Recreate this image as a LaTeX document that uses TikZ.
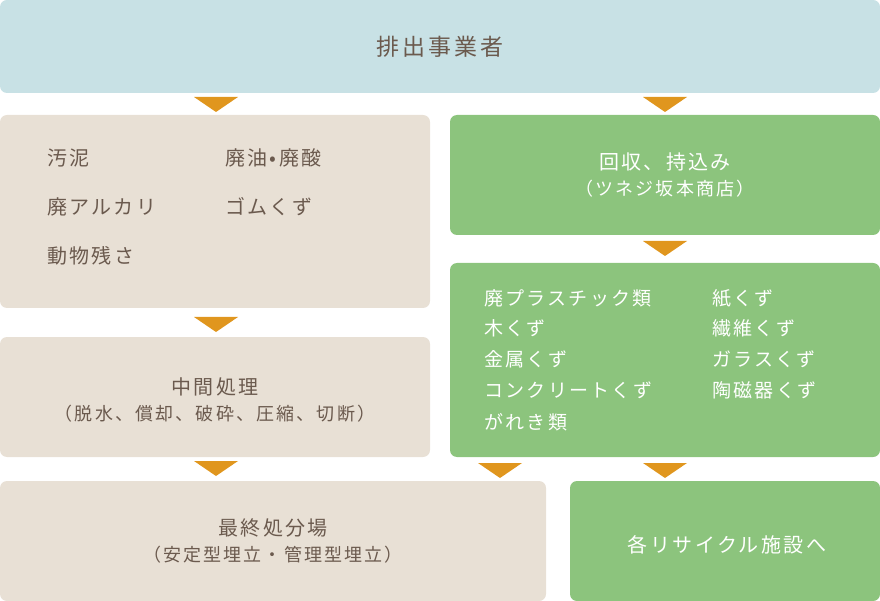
\documentclass[tikz,border=0pt]{standalone}
\usepackage{fontspec}
\setmainfont{Noto Sans CJK JP}[LetterSpace=12]
\definecolor{topc}{HTML}{C8E1E5}
\definecolor{beige}{HTML}{E8E0D5}
\definecolor{grn}{HTML}{8CC47D}
\definecolor{org}{HTML}{E0961E}
\definecolor{brn}{HTML}{6B5A4E}
\begin{document}
\begin{tikzpicture}[x=1pt,y=-1pt,
  box/.style={rounded corners=7pt},
  tri/.style={fill=org},
  bt/.style={text=brn,font=\fontsize{20}{24}\selectfont,anchor=west,inner sep=0},
  wt/.style={text=white,font=\fontsize{19}{23}\selectfont,anchor=west,inner sep=0},
  ct/.style={align=center,font=\fontsize{20}{26}\selectfont,inner sep=0}]
\useasboundingbox (0,0) rectangle (880,601);
\fill[box,topc] (0,0) rectangle (880,93);
\fill[box,beige] (0,115) rectangle (430,308);
\fill[box,grn] (450,115) rectangle (880,235);
\fill[box,grn] (450,263) rectangle (880,457);
\fill[box,beige] (0,337) rectangle (430,457);
\fill[box,beige] (0,481) rectangle (546,601);
\fill[box,grn] (570,481) rectangle (880,601);
\foreach \x/\y in {216/97,665/97,216/317,665/241,216/461,500/463,665/463}
  \fill[tri] (\x-22,\y) -- (\x+22,\y) -- (\x,\y+15) -- cycle;
\node[ct,text=brn,font=\fontsize{23}{26}\selectfont] (t) at (440,47) {排出事業者};
\node[bt] (a1) at (47,158) {汚泥};
\node[bt] (a2) at (225,158) {廃油•廃酸};
\node[bt] (a3) at (47,207) {廃アルカリ};
\node[bt] (a4) at (225,207) {ゴムくず};
\node[bt] (a5) at (47,256) {動物残さ};
\node[ct,text=white] (g1) at (665,175) {回収、持込み\\{\fontsize{18}{22}\selectfont（ツネジ坂本商店）}};
\node[wt] (b1) at (484,298) {廃プラスチック類};
\node[wt] (b2) at (484,328) {木くず};
\node[wt] (b3) at (484,359) {金属くず};
\node[wt] (b4) at (484,390) {コンクリートくず};
\node[wt] (b5) at (484,422) {がれき類};
\node[wt] (c1) at (712,298) {紙くず};
\node[wt] (c2) at (712,328) {繊維くず};
\node[wt] (c3) at (712,359) {ガラスくず};
\node[wt] (c4) at (712,390) {陶磁器くず};
\node[ct,text=brn] (m) at (215,400) {中間処理\\{\fontsize{18}{22}\selectfont（脱水、償却、破砕、圧縮、切断）}};
\node[ct,text=brn] (f) at (273,541) {最終処分場\\{\fontsize{18}{22}\selectfont（安定型埋立・管理型埋立）}};
\node[ct,text=white] (r) at (727,545) {各リサイクル施設へ};
\end{tikzpicture}
\end{document}
